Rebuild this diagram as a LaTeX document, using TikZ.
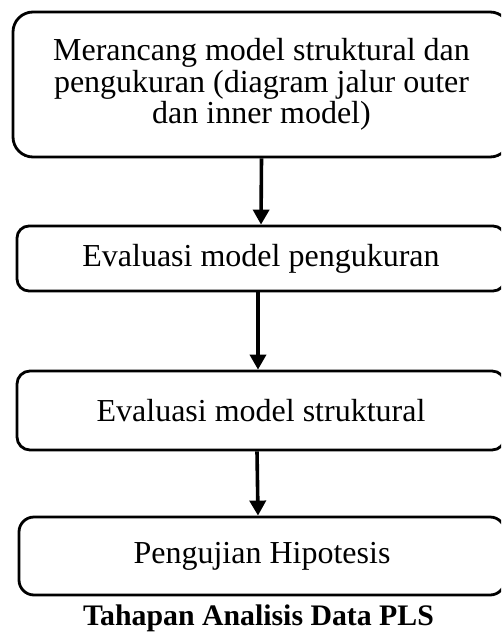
\documentclass[tikz,border=0pt]{standalone}
\usepackage{fontspec}
\setmainfont{Liberation Serif}
\usetikzlibrary{arrows.meta,calc}
\begin{document}
\begin{tikzpicture}[x=1pt,y=-1pt,
  box/.style={draw=black, line width=2.8pt, align=center, inner sep=0pt,
    font=\fontsize{32}{31.7}\selectfont},
  arr/.style={draw=black, line width=3.6pt, -{Triangle[length=15pt,width=16pt]}},
  captext/.style={font=\fontsize{29.8}{30}\selectfont\bfseries, anchor=base, inner sep=0pt}]
\useasboundingbox (0,0) rectangle (501,632);
\clip (0,0) rectangle (501,632);
\node[box, rounded corners=20pt, minimum width=497pt, minimum height=145pt] (b1) at (261.5,84.5)
  {Merancang model struktural dan\\pengukuran (diagram jalur outer\\dan inner model)};
\node[box, rounded corners=12pt, minimum width=488pt, minimum height=65pt] (b2) at (261,258.5)
  {Evaluasi model pengukuran};
\node[box, rounded corners=13pt, minimum width=488pt, minimum height=79pt] (b3) at (261,410.5)
  {Evaluasi model struktural};
\node[box, rounded corners=15pt, minimum width=486pt, minimum height=78pt] (b4) at (262,556)
  {Pengujian Hipotesis};
\node[captext] (t) at (258.5,625) {Tahapan Analisis Data PLS};
\draw[arr] (b1.south) -- (b2.north);
\draw[arr] ([xshift=-3pt]b2.south) -- ([xshift=-3pt]b3.north);
\draw[arr] ([xshift=-4pt]b3.south) -- ([xshift=-4pt]b4.north);
\end{tikzpicture}
\end{document}
